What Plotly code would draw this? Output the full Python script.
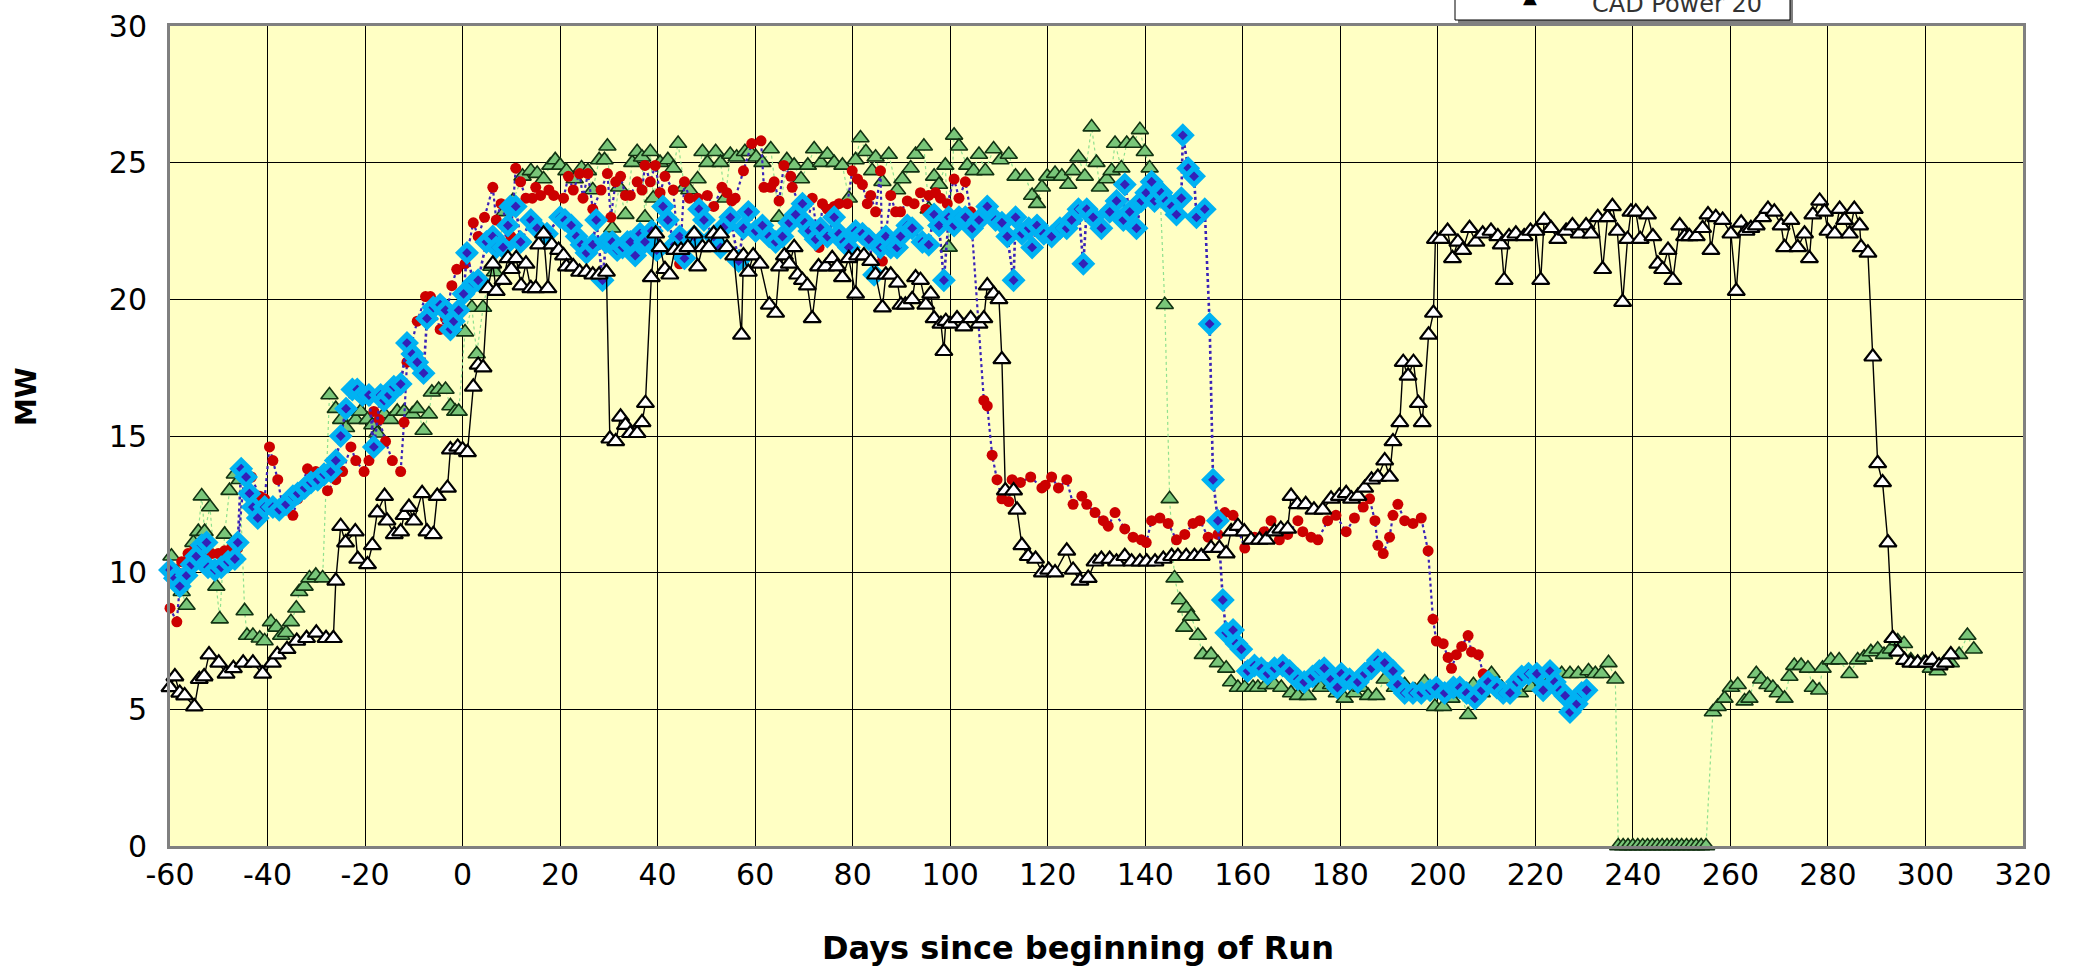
import plotly.graph_objects as go

# ---------------- data ----------------
green_days = [-59.7,-58.6,-57.6,-56.6,-55.2,-54.2,-53.5,-52.9,-51.8,-50.5,-49.8,-48.8,-47.8,-46.7,-45.7,-44.7,-44.2,-43,-41.6,-40.6,
              -39.3,-38.2,-37.2,-36.2,-35.2,-34.1,-33.5,-32.4,-31.4,-30.1,-28.7,-27.3,-26,-24.9,-23.9,-22.9,-21.9,-20.9,-19.5,-18.5,
              -17.5,-16.1,-14.8,-13.4,-12,-10.3,-9.3,-8,-6.9,-6.3,-4.9,-3.5,-2.5,-1.5,-0.8,0.5,1.9,2.9,4.2,5.9,
              6.6,8.6,10.3,12.3,14,15.3,16.6,18,19,20,21.3,23,24.4,25.7,26.7,28,29.1,29.7,30.7,32.1,
              33.4,34.8,35.8,36.8,37.4,38.5,39.1,40.5,42.1,43.2,44.2,45.5,46.5,48.2,49.2,50.2,51.9,52.9,53.9,54.9,
              56.2,57.9,58.9,60.2,61.5,63.2,64.9,66.5,68,69.4,70.8,72.1,73.5,74.8,76.2,77.9,79.2,80.6,81.6,82.7,
              84,84.7,86.1,87.4,89.1,90.2,91.9,92.9,94.6,95.6,96.7,97.7,99,99.7,100.8,101.8,103.5,104.8,105.9,107.2,
              108.9,110.3,112,113.4,115.4,116.8,117.8,118.8,119.9,121.5,122.9,124.2,125.2,126.3,127.6,129,130,130.7,132.1,133.1,
              133.8,135.1,136.2,137.5,138.9,139.9,140.9,143,144,145,146,147.1,148,148.4,149.4,150.8,151.8,153.5,154.9,156.6,
              157.6,159,160.4,162.1,163.1,164.8,166.5,167.9,169.9,171.3,173.3,174,176,178.1,179.3,180.9,182.9,184.3,185.7,187.4,
              189.1,191.2,193.2,195.3,197.3,199.4,201.1,202.8,204.5,206.2,207.3,209,211,213.1,215.1,216.8,219.2,221.6,223.7,225.4,
              227.1,228.8,230.9,232.3,233.6,235,236.4,237,238,239,240,241,242,243,244,245,246,247,248,249,
              250,251,252,253,254,255,256.4,257.4,258.8,260.1,261.5,262.9,263.9,265.3,266.3,267.6,268.7,269.7,271.1,272.1,
              273.1,274.5,275.9,276.9,278.2,278.9,280.6,282.3,284.4,286.1,287.4,288.8,290.2,291.5,292.9,294.3,295.6,297,298.4,299.7,
              301.1,302.5,303.8,305.2,306.9,308.6,309.9]
green_mw = [10.6,10.0,9.3,8.8,11.1,11.5,12.8,11.5,12.4,9.5,8.3,11.4,13.0,13.6,13.4,8.6,7.7,7.7,7.6,7.5,
            8.2,8.0,7.7,7.8,8.2,8.7,9.3,9.5,9.8,9.9,9.8,16.5,16.0,15.6,15.3,15.9,15.6,15.9,15.6,15.4,
            15.1,15.8,15.6,15.9,15.9,15.8,16.0,15.2,15.8,16.6,16.7,16.7,16.1,15.9,15.9,18.8,19.7,18.0,19.7,21.2,
            21.0,23.2,23.6,24.5,24.7,24.6,24.4,24.9,25.1,24.9,24.7,24.4,24.8,24.7,24.0,25.1,25.1,25.6,22.6,24.1,
            23.1,25.0,25.4,25.2,23.0,25.4,23.7,25.0,25.1,24.8,25.7,24.1,24.0,24.4,25.4,25.0,25.4,25.0,23.7,25.3,
            25.2,25.4,25.4,25.2,25.0,25.5,23.0,25.1,24.9,24.4,24.9,25.5,25.0,25.3,25.0,24.9,23.7,25.1,25.9,25.4,
            24.7,25.2,24.3,25.3,24.0,24.4,24.8,25.3,25.6,23.3,24.5,24.2,24.9,21.9,26.0,25.6,24.9,24.7,25.3,24.7,
            25.5,25.1,25.3,24.5,24.5,23.8,23.5,24.1,24.5,24.6,24.5,24.2,24.7,25.2,24.5,26.3,25.0,24.1,24.4,24.7,
            25.7,24.8,25.7,25.7,26.2,25.4,24.8,24.1,19.8,12.7,9.8,9.0,8.0,8.7,8.4,7.7,7.0,7.0,6.7,6.5,
            6.0,5.8,5.8,5.8,5.8,5.9,5.9,5.8,5.6,5.5,5.5,6.0,5.8,5.9,5.6,5.4,5.6,5.8,5.5,5.5,
            6.1,5.8,5.9,5.7,6.0,5.1,5.1,5.4,5.6,4.8,5.9,5.6,6.3,5.8,5.7,5.6,5.8,6.0,6.2,6.3,
            6.3,6.3,6.4,6.3,6.3,6.7,6.1,0,0,0,0,0,0,0,0,0,0,0,0,0,
            0,0,0,0,0,0,4.9,5.1,5.4,5.8,5.9,5.3,5.4,6.3,6.1,5.9,5.8,5.6,5.4,6.2,
            6.6,6.6,6.5,5.8,5.7,6.5,6.8,6.8,6.3,6.8,6.9,7.1,7.2,7.0,7.2,7.5,7.4,6.8,6.7,6.7,
            6.5,6.4,6.7,6.7,7.0,7.7,7.2]

red_days = [-60,-58.6,-57.6,-56.3,-54.9,-52.9,-51.5,-50.1,-48.8,-47.4,-46.1,-44.7,-43.3,-41.6,-40.6,-39.6,-38.9,-37.9,-36.9,-34.8,
            -33.8,-31.8,-30.1,-27.7,-26,-24.6,-22.9,-21.9,-20.2,-19.2,-18.2,-17.1,-15.8,-14.4,-12.7,-12,-11.4,-9.3,-7.6,-6.6,
            -4.6,-3.5,-2.2,-1.2,0.5,2.2,3.2,4.5,6.2,6.9,7.9,9.9,10.9,11.9,13,14.3,15,16,17.7,18.7,
            20.7,21.7,22.7,24,24.7,25.7,26.7,28.4,29.7,30.4,31.4,32.4,33.4,34.4,35.8,36.8,37.4,38.5,39.5,40.5,
            41.5,43.2,44.5,45.5,46.5,48.2,50.2,51.5,53.2,54.2,55.2,55.9,57.6,59.3,61.2,61.8,63.2,63.9,64.9,65.9,
            67.3,67.6,69,70.7,71.7,73.1,73.8,74.8,76.2,77.2,78.9,79.9,81,82,83,83.7,84.7,85.7,86.1,87.8,
            88.8,89.8,91.2,92.6,93.9,95,95.6,97,98,99.4,100.8,101.8,103.1,104.2,106.9,107.6,108.6,109.6,110.6,112,
            112.7,114.4,116.5,118.8,119.5,120.8,122.2,123.9,125.2,127,128,129.7,131.4,132.4,133.8,135.8,137.5,139.2,140.2,141.3,
            143,144.7,146.4,148.1,149.8,151.2,152.9,154.9,156.3,158,160.4,162.4,164.4,165.8,167.5,169.2,171.3,172.3,174,175.4,
            177.4,179.1,181.2,182.9,184.7,186,187.1,187.7,188.8,190.1,190.8,191.8,193.2,194.9,196.6,198,199,199.7,201.1,202.1,
            202.8,203.8,204.9,206.2,206.9,208.3,209.3,210]
red_mw = [8.7,8.2,10.4,10.7,10.9,10.7,10.7,10.7,10.8,10.9,10.9,13.7,13.5,12.8,12.7,14.6,14.1,13.4,12.4,12.1,
          12.7,13.8,13.7,13.0,13.4,13.7,14.6,14.1,13.7,14.1,15.9,15.6,14.8,14.1,13.7,15.5,17.7,19.2,20.1,20.1,
          18.9,19.3,20.5,21.1,21.3,22.8,22.3,23.0,24.1,22.9,23.5,22.3,24.8,24.3,23.7,23.7,24.1,23.8,24.0,23.8,
          23.7,24.5,24.0,24.6,23.7,24.6,23.3,24.0,24.6,23.0,24.3,24.5,23.8,23.8,24.3,24.0,24.9,24.3,24.9,23.9,
          24.5,24.0,21.3,24.3,23.7,23.7,23.8,23.4,24.1,23.9,23.6,23.7,24.7,25.7,25.8,24.1,24.1,24.3,23.6,24.9,
          24.5,24.1,23.5,22.7,23.7,21.9,23.5,23.3,23.4,23.5,23.5,24.7,24.4,24.2,23.5,23.8,23.2,24.7,21.4,23.8,
          23.2,23.2,23.6,23.5,23.9,23.3,23.8,23.9,23.7,23.5,24.4,23.7,24.3,23.2,16.3,16.1,14.3,13.4,12.7,12.6,
          13.4,13.3,13.5,13.1,13.2,13.5,13.1,13.4,12.5,12.8,12.5,12.2,11.9,11.7,12.2,11.6,11.3,11.2,11.1,11.9,
          12.0,11.8,11.2,11.4,11.8,11.9,11.3,11.4,12.2,12.1,10.9,11.3,11.5,11.9,11.2,11.4,11.9,11.5,11.3,11.2,
          11.9,12.1,11.5,12.0,12.4,12.7,11.9,11.0,10.7,11.3,12.1,12.5,11.9,11.8,12.0,10.8,8.3,7.5,7.4,6.9,
          6.5,7.0,7.3,7.7,7.1,7.0,6.3,6.2]

blue_days = [-60,-59,-58,-56.6,-55.6,-54.6,-53.5,-52.5,-52.2,-50.8,-49.5,-48.1,-46.7,-46.1,-45.4,-44.4,-43.7,-43,-42,-40.6,
             -38.9,-37.6,-36.2,-34.8,-33.8,-32.4,-31.1,-29.7,-28.4,-27,-26,-25,-23.9,-22.6,-21.6,-20.5,-19.2,-18.2,-16.8,-16.1,
             -15.1,-14.1,-12.7,-11.4,-10.3,-9.3,-8,-7.3,-6,-4.6,-3.5,-2.5,-1.8,-0.8,0.2,0.9,2.2,3.2,4.9,6.2,
             6.9,8.3,9.3,9.8,10.9,11.9,14,15.3,17.3,20,21,22.3,23.4,24.4,25.4,26.7,27.4,28.7,29.4,30.7,
             31.7,32.8,33.8,34.4,35.4,36.4,37.4,38.8,39.8,41.1,42.1,43.5,44.5,45.5,47.5,48.5,49.5,51.5,52.9,53.9,
             54.9,56.6,57.6,58.6,60.1,61.5,62.9,64.2,65.6,67,68.3,69.7,70.2,71.1,72.4,73.4,74.8,76.2,77.2,78.2,
             79.2,80.6,82,83.3,84.4,85.7,86.8,87.8,89.1,89.8,91.2,92.2,94.3,95.6,96.7,97.7,98.7,99.7,100.8,101.8,
             103.1,104.5,105.9,107.6,109.3,110.6,111.7,113,113.4,114.7,116.1,116.8,117.8,119.2,120.8,122.5,123.9,124.9,126.3,127.3,
             128,129.3,131,132.7,134.1,135.5,135.8,136.8,138.2,139.2,140.2,141.3,141.9,143.3,144.3,145.4,146.4,147.4,147.7,148.8,
             150,150.5,152.2,153.2,153.9,154.9,155.9,156.6,158,158.7,159.7,161,162.4,163.8,165.1,166.5,168.2,169.6,171.3,172.6,
             174.3,175.7,176.7,178.1,179.4,180.2,181.9,183.6,185,186.4,187.7,189.1,190.8,191.8,193.2,194.9,196.6,198.4,199.7,201.4,
             203.2,204.5,205.9,207.6,209,210.3,212.1,213.4,214.8,216.2,217.2,218.6,220.3,221.6,223,224,225.1,226.1,227.1,228.5,
             229.5,230.5]
blue_mw = [10.1,9.8,9.5,9.9,10.3,10.6,11.0,11.1,10.2,10.1,10.2,10.4,10.5,11.1,13.8,13.5,12.9,12.4,12.0,12.4,
           12.4,12.3,12.5,12.8,12.9,13.1,13.3,13.4,13.6,13.7,14.1,15.0,16.0,16.7,16.7,16.5,16.5,14.6,16.5,16.3,
           16.5,16.8,16.9,18.4,18.0,17.7,17.3,19.3,19.7,19.8,19.6,18.9,19.2,19.6,20.2,21.7,20.6,20.7,22.1,22.3,
           21.9,21.9,22.7,23.4,23.4,22.1,22.9,22.6,22.4,23.0,22.9,22.7,22.3,22.0,21.7,22.0,22.9,20.7,22.1,22.1,
           21.8,21.9,22.1,22.1,21.6,22.4,22.1,22.5,21.8,23.4,22.9,22.0,22.3,21.5,22.3,23.3,22.9,22.3,21.9,22.7,
           23.0,21.4,22.6,23.2,22.5,22.7,22.3,22.1,22.3,22.8,23.1,23.5,22.8,22.5,22.2,22.6,22.3,23.0,22.4,22.1,
           21.9,22.5,22.4,22.2,20.9,21.9,22.3,21.9,21.9,22.3,22.7,22.6,22.1,22.0,23.1,22.7,20.7,23.0,22.7,23.0,
           23.0,22.6,22.9,23.4,22.9,22.8,22.3,20.7,23.0,22.4,22.6,21.9,22.7,22.4,22.3,22.6,22.6,22.9,23.3,21.3,
           23.3,23.0,22.6,23.2,23.6,22.9,24.2,23.2,22.6,23.6,23.9,24.3,23.6,23.9,23.6,23.4,23.1,23.7,26.0,24.8,
           24.5,23.0,23.3,19.1,13.4,11.9,9.0,7.8,7.9,7.4,7.2,6.4,6.6,6.5,6.3,6.5,6.6,6.4,6.1,6.0,
           6.2,6.4,6.5,6.1,5.8,6.3,6.1,6.0,6.3,6.5,6.8,6.7,6.4,5.9,5.6,5.6,5.6,5.7,5.8,5.6,
           5.8,5.8,5.6,5.4,5.7,6.0,5.8,5.6,5.6,6.0,6.2,6.3,6.3,5.7,6.4,6.0,5.7,5.5,4.9,5.2,
           5.6,5.7]

black_days = [-60,-59,-58,-57,-55,-54,-53,-52,-50,-48.5,-47,-45,-43,-41,-39,-38,-36,-34,-32,-30,
              -28,-26.5,-26,-25,-24,-22,-21.5,-19.5,-18.5,-17.5,-16,-15.5,-14,-12.7,-12,-11,-10,-8.3,-7.3,-6,
              -5.2,-3.1,-2.5,-1,0,1,2.2,3.2,4.2,5.2,6.2,6.9,8.3,9.3,10,11,12,13,14,15,
              15.6,16.6,17.5,18.3,19.7,20.7,21.3,22.7,24,25.4,26.7,28,29.5,30.2,31.4,32.4,33.4,34.4,35.8,36.8,
              37.5,38.7,39.6,40.5,41.5,42.5,43.5,44.8,46.2,47.5,48.2,49.2,50.5,51.5,52.9,54.2,55.6,57.2,57.6,58.6,
              59.6,61,62.9,64.2,65,66,67,68,68.7,69.7,70.7,71.7,73,74.5,75.8,76.8,77.9,79.2,80.6,81,
              82.3,83.7,84.7,86.1,86.8,87.8,89.2,89.9,90.8,92.2,92.9,93.9,95,96,96.7,98.1,98.7,99.1,100,101.4,
              102.8,104.2,105.9,106.9,107.6,108.9,110,110.6,111.3,113,113.7,114.7,116,117.5,118.9,120.2,121.5,123.9,125.2,126.6,
              128.3,129.7,131,132.7,134.1,135.8,137.2,138.9,140.3,142,143.7,145.4,146.7,148.4,150.1,151.5,153.5,155.2,156.6,157.6,
              159,160.3,161.7,163.4,164.8,166.5,167.8,169.2,169.9,171.2,172.9,174.6,176.4,178.1,179.8,181.2,182.3,183.6,185,186.4,
              187.7,189.1,190.1,190.8,192.2,192.9,193.9,195,196,196.8,198.1,199.1,199.5,200.6,202,203,204.1,205.1,206.5,207.8,
              209.2,210.9,212.3,213,213.6,214.6,216,217.7,219,220.1,221.1,221.8,223.2,224.6,226.3,227.6,229,230.4,231.4,232.8,
              233.8,234.8,235.8,236.8,237.9,238.9,239.6,240.6,241.5,243,244.1,245.1,246.1,247.2,248.2,249.6,250.6,251.6,253,254.3,
              255.4,256,257,258.4,260.1,261.2,262.2,263.2,264.2,265.3,266.6,267.7,269,270.4,271.1,272.4,273.8,275.2,276.2,276.9,
              278.3,279.3,280,281.4,282.4,283.4,284.4,285.4,286.5,286.8,288.2,289.2,290.2,291.2,292.3,293.3,294.3,295.7,297,298.4,
              300.1,301.4,302.8,304.1,305.2]
black_mw = [5.8,6.2,5.6,5.5,5.1,6.1,6.2,7.0,6.7,6.3,6.5,6.7,6.7,6.3,6.7,7.0,7.2,7.5,7.6,7.8,
            7.6,7.6,9.7,11.7,11.1,11.5,10.5,10.3,11.0,12.2,12.8,11.9,11.4,11.5,12.1,12.4,11.9,12.9,11.5,11.4,
            12.8,13.1,14.5,14.6,14.5,14.4,16.8,17.6,17.5,20.4,21.3,20.3,20.7,21.5,21.1,21.5,20.5,21.3,20.4,20.4,
            22.0,22.4,20.4,22.0,21.8,21.6,21.2,21.2,21.0,21.0,20.9,20.9,21.0,14.9,14.8,15.7,15.4,15.1,15.1,15.5,
            16.2,20.8,22.4,21.9,21.1,20.9,21.8,21.8,21.9,22.4,21.2,21.9,21.9,22.4,22.4,21.9,21.6,18.7,21.6,21.0,
            21.6,21.3,19.8,19.5,21.2,21.6,21.3,21.9,20.9,20.7,20.5,19.3,21.2,21.2,21.5,21.2,20.8,21.5,20.2,21.6,
            21.6,21.4,20.9,19.7,20.9,20.9,20.6,19.8,19.8,20.0,20.8,20.7,19.8,20.2,19.3,19.1,18.1,19.2,19.1,19.3,
            19.0,19.3,19.1,19.3,20.5,20.2,20.0,17.8,13.0,13.0,12.3,11.0,10.6,10.5,10.0,10.1,10.0,10.8,10.1,9.7,
            9.8,10.4,10.5,10.5,10.4,10.6,10.4,10.4,10.4,10.4,10.5,10.6,10.6,10.6,10.6,10.6,10.9,10.9,10.7,11.5,
            11.7,11.5,11.2,11.2,11.2,11.5,11.6,11.6,12.8,12.5,12.5,12.3,12.3,12.7,12.8,12.9,12.7,12.8,13.1,13.4,
            13.5,14.1,13.5,14.8,15.5,17.7,17.2,17.7,16.2,15.5,18.7,19.5,22.2,22.2,22.5,21.5,22.1,21.8,22.6,22.1,
            22.4,22.5,22.3,22.0,20.7,22.3,22.4,22.3,22.5,22.5,20.7,22.9,22.6,22.2,22.5,22.7,22.4,22.7,22.4,23.0,
            21.1,23.0,23.4,22.5,19.9,22.2,23.2,23.2,22.2,23.1,22.3,21.3,21.1,21.8,20.7,22.7,22.3,22.3,22.3,22.6,
            23.1,21.8,23.0,22.9,22.4,20.3,22.8,22.5,22.6,22.7,23.0,23.3,23.2,22.7,21.9,22.9,21.9,22.4,21.5,23.1,
            23.6,23.2,22.5,22.4,23.3,22.9,22.4,23.3,22.7,21.9,21.7,17.9,14.0,13.3,11.1,7.6,7.1,6.8,6.7,6.7,
            6.7,6.8,6.6,6.7,7.0]

x_ticks = list(range(-60, 321, 20))
y_ticks = list(range(0, 31, 5))
x_title = "Days since beginning of Run"
y_title = "MW"
legend_label = "CAD Power 20"

# ---------------- layout geometry (page pixels; page margin removed) ----------------
W, H = 2073, 970
PL, PR, PT, PB = 170, 2023, 26, 846   # plot area in page pixels
L, R, T, B = PL, W - PR, PT, H - PB
pw, ph = PR - PL, PB - PT

def px(x):   # page x -> paper x
    return (x - PL) / pw

def py(y):   # page y -> paper y
    return 1 - (y - PT) / ph

fig = go.Figure()
fig.add_trace(go.Scatter(
    x=green_days, y=green_mw, mode="lines+markers", cliponaxis=False,
    line=dict(color="#8FE08F", width=1.2, dash="dot"),
    marker=dict(symbol="triangle-up", size=15, color="#79C679",
                line=dict(color="#123312", width=1.6)),
    showlegend=False))
fig.add_trace(go.Scatter(
    x=red_days, y=red_mw, mode="lines+markers", cliponaxis=False,
    line=dict(color="#3A22B8", width=2.2, dash="dot"),
    marker=dict(symbol="circle", size=11, color="#CC0000", line=dict(width=0)),
    showlegend=False))
fig.add_trace(go.Scatter(
    x=blue_days, y=blue_mw, mode="lines+markers", cliponaxis=False,
    line=dict(color="#3A22B8", width=2.6, dash="dot"),
    marker=dict(symbol="diamond", size=13, color="#3320B8",
                line=dict(color="#00B2F2", width=5)),
    showlegend=False))
fig.add_trace(go.Scatter(
    x=black_days, y=black_mw, mode="lines+markers", cliponaxis=False,
    line=dict(color="#000000", width=1.4),
    marker=dict(symbol="triangle-up", size=15, color="#FFFFFF",
                line=dict(color="#000000", width=2.2)),
    name=legend_label, showlegend=False))

axis_font = dict(family="DejaVu Sans", size=30, color="#000000")
fig.update_layout(
    width=W, height=H,
    margin=dict(l=L, r=R, t=T, b=B, autoexpand=False),
    paper_bgcolor="#FFFFFF", plot_bgcolor="#FFFFC4",
    showlegend=False,
    xaxis=dict(range=[-60, 320], tickvals=x_ticks, ticktext=[str(v) for v in x_ticks],
               showgrid=True, gridcolor="#000000", gridwidth=1.3, zeroline=False,
               showline=True, linecolor="#808080", linewidth=3, mirror=True, automargin=False,
               ticks="", tickfont=axis_font, ticklabelstandoff=0),
    yaxis=dict(range=[0, 30], tickvals=y_ticks, ticktext=[str(v) for v in y_ticks],
               showgrid=True, gridcolor="#000000", gridwidth=1.3, zeroline=False,
               showline=True, linecolor="#808080", linewidth=3, mirror=True, automargin=False,
               ticks="", tickfont=axis_font, ticklabelstandoff=14),
)

# axis titles
fig.add_annotation(x=px(1078), y=py(948), xref="paper", yref="paper", text=f"<b>{x_title}</b>",
                   showarrow=False, xanchor="center", yanchor="middle",
                   font=dict(family="DejaVu Sans", size=32, color="#000000"))
fig.add_annotation(x=px(27), y=py(397), xref="paper", yref="paper", text=f"<b>{y_title}</b>",
                   showarrow=False, xanchor="center", yanchor="middle", textangle=-90,
                   font=dict(family="DejaVu Sans", size=28, color="#000000"))

# partially visible legend box (cut by the top of the image, as in the reference)
fig.add_shape(type="rect", xref="paper", yref="paper",
              x0=px(1458), x1=px(1793), y0=py(23), y1=py(-60),
              fillcolor="#808080", line=dict(width=0), layer="above")
fig.add_shape(type="rect", xref="paper", yref="paper",
              x0=px(1455), x1=px(1790), y0=py(20), y1=py(-60),
              fillcolor="#FFFFFF", line=dict(color="#000000", width=1), layer="above")
fig.add_annotation(x=px(1530), y=py(-3), xref="paper", yref="paper", text="▲",
                   showarrow=False, xanchor="center", yanchor="middle",
                   font=dict(family="DejaVu Sans", size=18, color="#000000"))
fig.add_annotation(x=px(1590), y=py(4), xref="paper", yref="paper", text=legend_label,
                   showarrow=False, xanchor="left", yanchor="middle",
                   font=dict(family="DejaVu Sans", size=24, color="#333333"))

fig.write_html("out.html", config={"displayModeBar": False},
               post_script="document.body.style.margin='0px'; document.body.style.overflow='hidden';")
